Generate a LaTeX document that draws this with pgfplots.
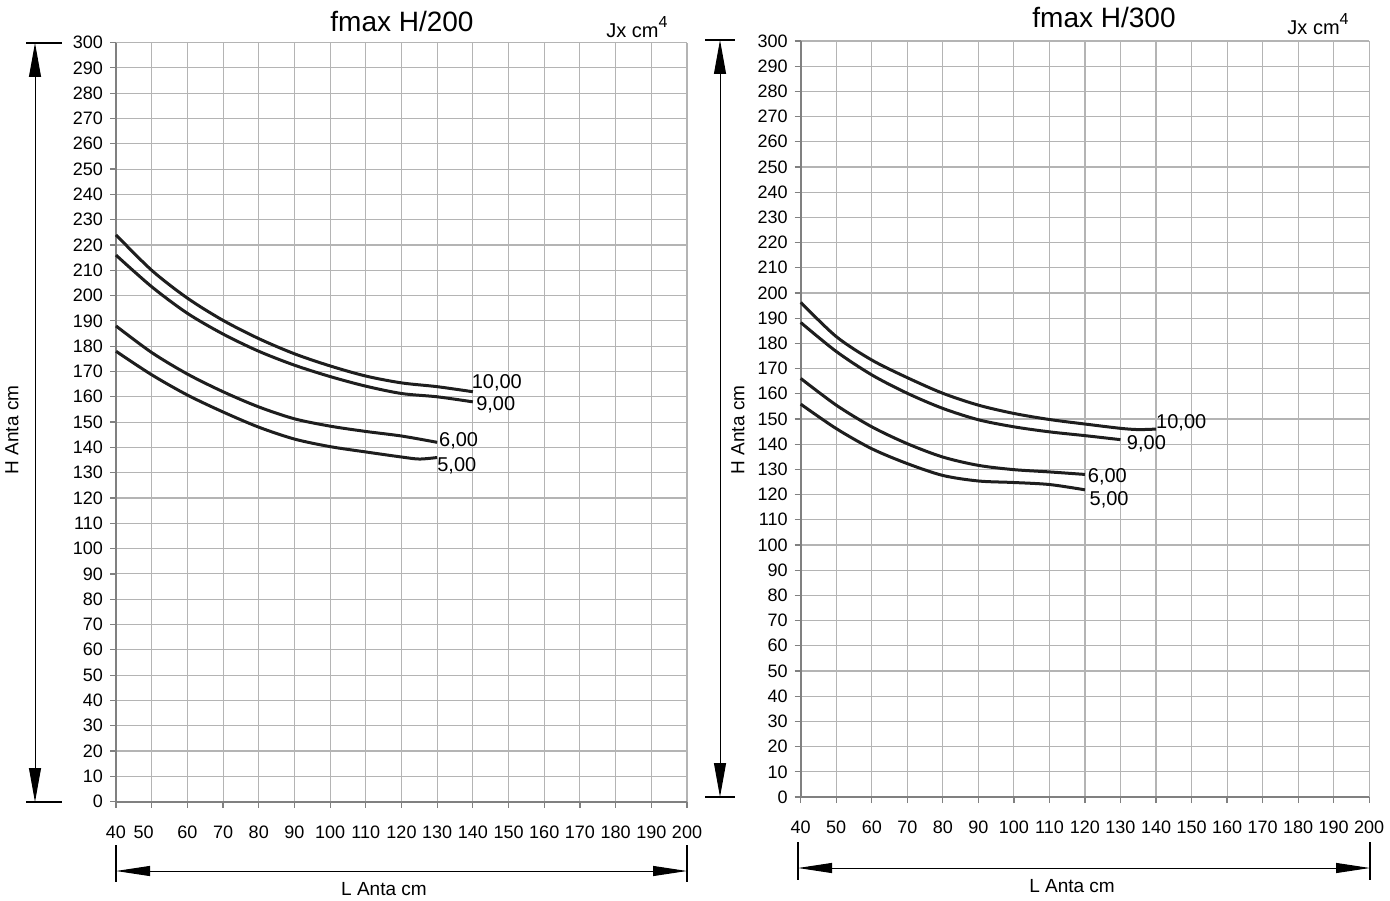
\documentclass[border=0pt]{standalone}
\usepackage{fontspec}
\setmainfont{Liberation Sans}
\usepackage{pgfplots}
\pgfplotsset{compat=1.18}
\usetikzlibrary{arrows.meta}
\definecolor{gridc}{HTML}{B4B4B4}
\definecolor{axc}{HTML}{808080}
\definecolor{crv}{HTML}{1E1E1E}
\pgfplotsset{mychart/.style={
  scale only axis, xmin=40,xmax=200,ymin=0,ymax=300,
  xtick={40,50,...,200}, ytick={0,10,...,300},
  grid=major, major grid style={gridc, line width=0.55pt},
  axis x line=bottom, axis y line=left,
  axis line style={axc, line width=0.9pt, -},
  tick style={axc, line width=0.6pt}, tick align=outside, major tick length=3pt,
  ticklabel style={font=\fontsize{9}{10}\selectfont},
  /pgf/number format/assume math mode=true,
  xticklabel style={yshift=-5.5pt},
  clip=false,
},
crvst/.style={color=crv, line width=1.5pt, smooth, mark=none}}
\begin{document}
\begin{tikzpicture}
\path[use as bounding box] (0,0) rectangle (695pt,450pt);
% left chart
\begin{axis}[mychart, at={(58pt,49.2pt)}, anchor=south west, width=285.5pt, height=379.5pt,
  xticklabels={40,\hspace*{-8pt}50,60,70,80,90,100,110,120,130,140,150,160,170,180,190,200}]
\addplot[crvst] coordinates {(40,224)(50,210)(60,199)(70,190.2)(80,183)(90,177)(100,172.2)(110,168.2)(120,165.5)(130,164)(140,162)};
\addplot[crvst] coordinates {(40,216)(50,203.5)(60,193)(70,184.8)(80,178)(90,172.5)(100,168)(110,164.2)(120,161.3)(130,160)(140,158)};
\addplot[crvst] coordinates {(40,188)(50,177.5)(60,169)(70,162)(80,156)(90,151.3)(100,148.4)(110,146.3)(120,144.5)(130,142)};
\addplot[crvst] coordinates {(40,178)(50,168.7)(60,160.7)(70,154)(80,148)(90,143.3)(100,140.3)(110,138.2)(120,136.2)(125,135.4)(130,136)};
\node[font=\fontsize{10}{12}\selectfont] at (axis cs:146.7,165.5) {10,00};
\node[font=\fontsize{10}{12}\selectfont] at (axis cs:146.4,156.8) {9,00};
\node[font=\fontsize{10}{12}\selectfont] at (axis cs:136,142.5) {6,00};
\node[font=\fontsize{10}{12}\selectfont] at (axis cs:135.5,132.7) {5,00};
\end{axis}
% right chart
\begin{axis}[mychart, at={(400.35pt,51.5pt)}, anchor=south west, width=284.25pt, height=378pt]
\addplot[crvst] coordinates {(40,196.3)(50,182.7)(60,173.4)(70,166.4)(80,160.2)(90,155.5)(100,152.2)(110,149.8)(120,148)(130,146.3)(135,145.8)(140,146)};
\addplot[crvst] coordinates {(40,188.3)(50,176.8)(60,167.5)(70,160.2)(80,154.2)(90,149.7)(100,146.9)(110,144.9)(120,143.4)(130,141.8)};
\addplot[crvst] coordinates {(40,166.1)(50,155.5)(60,146.9)(70,140.2)(80,134.9)(90,131.6)(100,129.9)(110,129)(120,128)};
\addplot[crvst] coordinates {(40,155.9)(50,146.2)(60,138.2)(70,132.3)(80,127.6)(90,125.4)(100,124.8)(110,124)(120,121.9)};
\node[font=\fontsize{10}{12}\selectfont] at (axis cs:147.1,148.4) {10,00};
\node[font=\fontsize{10}{12}\selectfont] at (axis cs:137.3,140) {9,00};
\node[font=\fontsize{10}{12}\selectfont] at (axis cs:126.3,127) {6,00};
\node[font=\fontsize{10}{12}\selectfont] at (axis cs:126.8,117.9) {5,00};
\end{axis}
% titles
\node[font=\fontsize{14}{16}\selectfont] at (201pt,439pt) {fmax H/200};
\node[font=\fontsize{14}{16}\selectfont] at (552pt,441pt) {fmax H/300};
\node[font=\fontsize{10}{11}\selectfont] at (318.5pt,436.5pt) {Jx cm\raisebox{0.9ex}{\fontsize{8}{8}\selectfont 4}};
\node[font=\fontsize{10}{11}\selectfont] at (659pt,438pt) {Jx cm\raisebox{0.9ex}{\fontsize{8}{8}\selectfont 4}};
% vertical dimension lines
\draw[line width=0.5pt, {Triangle[length=17pt,width=6pt]}-{Triangle[length=17pt,width=6pt]}] (17.5pt,428.5pt) -- (17.5pt,49pt);
\draw[line width=0.8pt] (13pt,428.5pt) -- (31pt,428.5pt);
\draw[line width=0.8pt] (13pt,49pt) -- (31pt,49pt);
\node[rotate=90, font=\fontsize{9.5}{11}\selectfont] at (6pt,235pt) {H Anta cm};
\draw[line width=0.5pt, {Triangle[length=17pt,width=6pt]}-{Triangle[length=17pt,width=6pt]}] (360pt,430pt) -- (360pt,51.5pt);
\draw[line width=0.8pt] (352.5pt,430pt) -- (367.5pt,430pt);
\draw[line width=0.8pt] (352.5pt,51.5pt) -- (367.5pt,51.5pt);
\node[rotate=90, font=\fontsize{9.5}{11}\selectfont] at (369pt,235pt) {H Anta cm};
% horizontal dimension lines
\draw[line width=0.5pt, {Triangle[length=17pt,width=5pt]}-{Triangle[length=17pt,width=5pt]}] (58pt,14.5pt) -- (343.5pt,14.5pt);
\draw[line width=0.6pt] (58pt,27.5pt) -- (58pt,9pt);
\draw[line width=0.6pt] (343.5pt,27.5pt) -- (343.5pt,9pt);
\node[font=\fontsize{9.5}{11}\selectfont] at (192pt,5.5pt) {L Anta cm};
\draw[line width=0.5pt, {Triangle[length=17pt,width=5pt]}-{Triangle[length=17pt,width=5pt]}] (399pt,16pt) -- (685pt,16pt);
\draw[line width=0.6pt] (399pt,29pt) -- (399pt,10pt);
\draw[line width=0.6pt] (685pt,29pt) -- (685pt,10pt);
\node[font=\fontsize{9.5}{11}\selectfont] at (536pt,7pt) {L Anta cm};
\end{tikzpicture}
\end{document}
